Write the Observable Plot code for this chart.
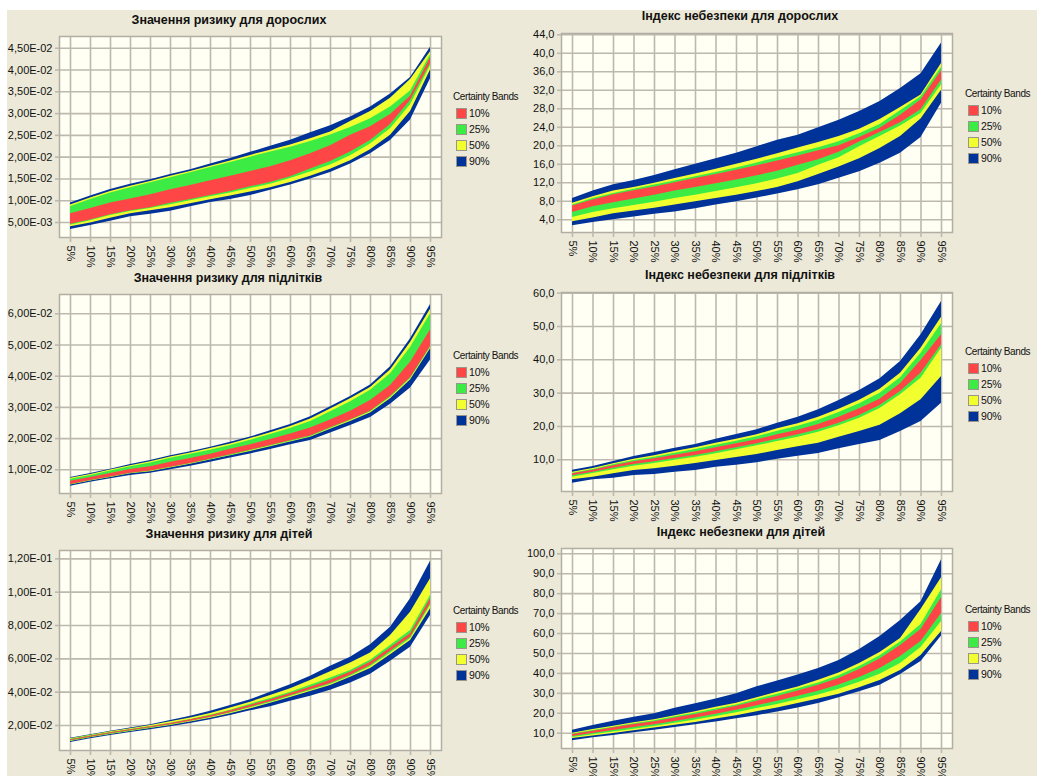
<!DOCTYPE html>
<html><head><meta charset="utf-8">
<script src="https://cdn.jsdelivr.net/npm/d3@7"></script>
<script src="https://cdn.jsdelivr.net/npm/@observablehq/plot@0.6"></script>
<style>
body{margin:0;width:1037px;height:776px;overflow:hidden;background:#fff;position:relative;font-family:"Liberation Sans",Arial,sans-serif;}
#bg{position:absolute;left:7px;top:10px;width:1030px;height:766px;background:#ECE9D8;}
.panel{position:absolute;}
.panel svg{display:block;overflow:visible;}
.title{position:absolute;font-weight:bold;font-size:12.5px;line-height:15px;transform:translateX(-50%);white-space:nowrap;color:#111;}
.legend{position:absolute;font-size:10.5px;line-height:13px;color:#111;}
.legend .head{white-space:nowrap;font-size:10px;letter-spacing:-0.4px;}
.legend .row{position:absolute;left:3px;height:10px;white-space:nowrap;}
.legend .sw{position:absolute;left:0;top:0;width:9px;height:9px;border:1px solid #9a968c;}
.legend .lab{position:absolute;left:13px;top:-1px;letter-spacing:-0.2px;}
</style></head>
<body>
<div id="bg"></div>
<script>
// percentiles on the x axis
const percentiles = [5,10,15,20,25,30,35,40,45,50,55,60,65,70,75,80,85,90,95];
const pctLabels = ["5%","10%","15%","20%","25%","30%","35%","40%","45%","50%","55%","60%","65%","70%","75%","80%","85%","90%","95%"];
const bandNames = ["10%","25%","50%","90%"];

// Значення ризику для дорослих
const adultRiskHi90 = [0.0095,0.0111,0.0126,0.0138,0.0148,0.0160,0.0171,0.0184,0.0197,0.0211,0.0225,0.0239,0.0256,0.0272,0.0292,0.0315,0.0345,0.0383,0.0452];
const adultRiskHi50 = [0.0090,0.0106,0.0121,0.0133,0.0144,0.0156,0.0167,0.0179,0.0191,0.0204,0.0216,0.0228,0.0242,0.0258,0.0282,0.0305,0.0335,0.0378,0.0442];
const adultRiskHi25 = [0.0087,0.0103,0.0118,0.0130,0.0141,0.0153,0.0164,0.0176,0.0188,0.0200,0.0212,0.0223,0.0236,0.0251,0.0268,0.0288,0.0315,0.0352,0.0435];
const adultRiskHi10 = [0.0070,0.0082,0.0095,0.0104,0.0114,0.0125,0.0135,0.0146,0.0156,0.0167,0.0178,0.0192,0.0208,0.0226,0.0250,0.0270,0.0298,0.0340,0.0428];
const adultRiskLo10 = [0.0046,0.0056,0.0068,0.0077,0.0084,0.0094,0.0103,0.0112,0.0121,0.0132,0.0142,0.0155,0.0173,0.0190,0.0212,0.0238,0.0275,0.0330,0.0415];
const adultRiskLo25 = [0.0044,0.0054,0.0066,0.0075,0.0082,0.0091,0.0100,0.0109,0.0118,0.0128,0.0138,0.0151,0.0166,0.0182,0.0203,0.0230,0.0265,0.0320,0.0410];
const adultRiskLo50 = [0.0040,0.0049,0.0060,0.0070,0.0077,0.0084,0.0093,0.0102,0.0111,0.0120,0.0130,0.0142,0.0156,0.0172,0.0192,0.0217,0.0250,0.0305,0.0400];
const adultRiskLo90 = [0.0034,0.0043,0.0053,0.0063,0.0069,0.0076,0.0086,0.0096,0.0103,0.0112,0.0124,0.0136,0.0150,0.0165,0.0184,0.0208,0.0238,0.0285,0.0380];
const adultRiskTicks = [0.005,0.010,0.015,0.020,0.025,0.030,0.035,0.040,0.045];

// Індекс небезпеки для дорослих
const adultIndexHi90 = [8.6,10.2,11.6,12.5,13.6,14.8,16.0,17.2,18.4,19.8,21.2,22.3,23.9,25.5,27.4,29.6,32.4,35.6,42.2];
const adultIndexHi50 = [7.6,9.0,10.2,11.0,11.9,12.9,13.9,14.9,16.0,17.1,18.3,19.5,20.7,22.0,23.6,25.7,28.3,31.0,37.8];
const adultIndexHi25 = [7.2,8.6,9.7,10.6,11.5,12.4,13.3,14.2,15.2,16.3,17.4,18.5,19.6,20.9,22.6,24.6,27.6,30.6,37.0];
const adultIndexHi10 = [7.0,8.3,9.4,10.3,11.1,12.0,12.9,13.8,14.7,15.7,16.7,17.8,18.9,20.0,21.8,23.8,26.6,29.9,36.2];
const adultIndexLo10 = [5.6,6.8,7.7,8.5,9.3,10.2,11.0,11.8,12.6,13.5,14.5,15.8,17.0,18.6,20.8,22.9,25.0,27.8,34.2];
const adultIndexLo25 = [4.5,5.6,6.4,7.1,7.8,8.6,9.3,10.1,10.9,11.8,12.8,14.0,15.8,17.4,19.8,22.0,24.3,27.0,33.2];
const adultIndexLo50 = [3.6,4.4,5.3,5.9,6.5,7.2,7.9,8.6,9.3,10.1,11.0,12.2,13.8,15.4,17.2,19.4,22.0,25.8,32.0];
const adultIndexLo90 = [2.7,3.4,4.0,4.6,5.2,5.7,6.4,7.2,7.9,8.7,9.6,10.5,11.6,13.0,14.4,16.2,18.4,21.8,29.2];
const adultIndexTicks = [4,8,12,16,20,24,28,32,36,40,44];

// Значення ризику для підлітків
const teenRiskHi90 = [0.0075,0.0088,0.0102,0.0117,0.0130,0.0145,0.0158,0.0172,0.0188,0.0205,0.0225,0.0245,0.0270,0.0302,0.0335,0.0372,0.0430,0.0520,0.0630];
const teenRiskHi50 = [0.0073,0.0085,0.0099,0.0113,0.0126,0.0141,0.0154,0.0168,0.0183,0.0200,0.0219,0.0239,0.0263,0.0295,0.0328,0.0364,0.0420,0.0508,0.0615];
const teenRiskHi25 = [0.0070,0.0082,0.0096,0.0110,0.0122,0.0137,0.0150,0.0163,0.0178,0.0195,0.0213,0.0232,0.0255,0.0286,0.0318,0.0355,0.0408,0.0492,0.0600];
const teenRiskHi10 = [0.0063,0.0075,0.0088,0.0101,0.0110,0.0124,0.0136,0.0150,0.0166,0.0180,0.0197,0.0215,0.0234,0.0260,0.0288,0.0322,0.0370,0.0445,0.0548];
const teenRiskLo10 = [0.0053,0.0066,0.0077,0.0089,0.0096,0.0108,0.0120,0.0134,0.0148,0.0163,0.0178,0.0193,0.0208,0.0235,0.0260,0.0288,0.0335,0.0395,0.0495];
const teenRiskLo25 = [0.0052,0.0065,0.0076,0.0088,0.0095,0.0107,0.0119,0.0132,0.0146,0.0161,0.0176,0.0191,0.0206,0.0232,0.0258,0.0285,0.0332,0.0392,0.0492];
const teenRiskLo50 = [0.0051,0.0064,0.0075,0.0087,0.0094,0.0106,0.0118,0.0131,0.0145,0.0159,0.0174,0.0189,0.0204,0.0230,0.0255,0.0282,0.0328,0.0388,0.0488];
const teenRiskLo90 = [0.0047,0.0060,0.0071,0.0082,0.0089,0.0100,0.0111,0.0124,0.0138,0.0151,0.0165,0.0180,0.0194,0.0218,0.0242,0.0268,0.0310,0.0362,0.0452];
const teenRiskTicks = [0.01,0.02,0.03,0.04,0.05,0.06];

// Індекс небезпеки для підлітків
const teenIndexHi90 = [6.9,8.0,9.5,11.0,12.2,13.5,14.6,16.2,17.6,19.0,21.0,22.8,25.0,27.8,30.8,34.3,39.5,47.5,57.5];
const teenIndexHi50 = [6.3,7.4,8.8,10.2,11.2,12.5,13.6,15.0,16.2,17.5,19.3,20.8,22.8,25.2,27.9,31.2,36.0,43.5,52.8];
const teenIndexHi25 = [6.0,7.1,8.5,9.8,10.8,12.0,13.1,14.4,15.6,16.9,18.6,20.1,21.9,24.2,26.8,30.0,34.6,42.0,50.8];
const teenIndexHi10 = [5.8,6.9,8.2,9.4,10.3,11.4,12.4,13.6,14.8,16.0,17.5,18.9,20.6,22.8,25.3,28.2,32.8,39.8,47.5];
const teenIndexLo10 = [5.2,6.3,7.5,8.6,9.4,10.4,11.3,12.4,13.6,14.8,16.2,17.5,19.0,21.0,23.3,26.3,30.5,36.0,44.5];
const teenIndexLo25 = [4.8,5.9,7.0,8.1,8.9,9.9,10.8,11.8,13.0,14.2,15.5,16.8,18.3,20.2,22.5,25.4,29.5,34.5,43.5];
const teenIndexLo50 = [4.0,4.8,5.8,6.8,7.3,8.1,8.9,9.8,10.7,11.6,12.8,13.9,15.0,16.8,18.5,20.4,23.8,28.0,35.0];
const teenIndexLo90 = [3.0,4.0,4.5,5.3,5.6,6.3,6.8,7.8,8.4,9.1,10.2,11.1,11.9,13.3,14.6,15.8,18.5,21.5,27.0];
const teenIndexTicks = [10,20,30,40,50,60];

// Значення ризику для дітей
const childRiskHi90 = [0.0123,0.0145,0.0165,0.0185,0.0205,0.0230,0.0255,0.0285,0.0320,0.0355,0.0400,0.0445,0.0495,0.0555,0.0610,0.0685,0.0790,0.0960,0.1185];
const childRiskHi50 = [0.0120,0.0142,0.0162,0.0180,0.0200,0.0222,0.0245,0.0272,0.0305,0.0340,0.0380,0.0420,0.0470,0.0522,0.0575,0.0635,0.0740,0.0880,0.1080];
const childRiskHi25 = [0.0117,0.0138,0.0158,0.0176,0.0194,0.0214,0.0236,0.0262,0.0292,0.0328,0.0362,0.0400,0.0442,0.0485,0.0530,0.0592,0.0680,0.0770,0.0980];
const childRiskHi10 = [0.0115,0.0136,0.0156,0.0174,0.0192,0.0212,0.0234,0.0258,0.0288,0.0322,0.0355,0.0392,0.0430,0.0472,0.0520,0.0580,0.0665,0.0750,0.0960];
const childRiskLo10 = [0.0108,0.0130,0.0150,0.0168,0.0186,0.0205,0.0226,0.0250,0.0278,0.0310,0.0342,0.0378,0.0415,0.0452,0.0502,0.0560,0.0645,0.0730,0.0930];
const childRiskLo25 = [0.0106,0.0128,0.0148,0.0166,0.0184,0.0203,0.0224,0.0248,0.0275,0.0306,0.0338,0.0374,0.0410,0.0446,0.0496,0.0552,0.0635,0.0720,0.0920];
const childRiskLo50 = [0.0104,0.0126,0.0146,0.0164,0.0182,0.0200,0.0221,0.0244,0.0271,0.0300,0.0333,0.0368,0.0404,0.0440,0.0490,0.0542,0.0625,0.0710,0.0900];
const childRiskLo90 = [0.0098,0.0120,0.0140,0.0158,0.0174,0.0192,0.0212,0.0234,0.0260,0.0288,0.0312,0.0345,0.0375,0.0412,0.0455,0.0508,0.0585,0.0670,0.0860];
const childRiskTicks = [0.02,0.04,0.06,0.08,0.10,0.12];

// Індекс небезпеки для дітей
const childIndexHi90 = [11.5,13.8,16.0,18.0,19.8,22.5,24.8,27.2,29.8,33.3,36.2,39.2,42.5,46.5,52.0,58.5,66.5,76.0,97.0];
const childIndexHi50 = [10.0,11.8,13.5,15.2,16.8,18.8,20.8,23.0,25.0,27.8,30.5,33.2,36.5,40.2,45.0,50.5,57.5,72.0,88.0];
const childIndexHi25 = [9.6,11.3,13.0,14.7,16.3,18.2,20.1,22.2,24.2,26.9,29.5,32.3,35.2,38.8,43.5,48.8,55.8,64.5,82.0];
const childIndexHi10 = [9.3,11.0,12.7,14.3,15.8,17.6,19.4,21.4,23.5,26.0,28.4,31.2,34.0,37.5,42.0,47.2,54.0,62.0,78.0];
const childIndexLo10 = [8.3,9.8,11.3,12.8,14.2,15.9,17.6,19.5,21.5,23.8,26.0,28.5,31.0,34.2,38.0,42.5,48.5,56.0,70.0];
const childIndexLo25 = [7.8,9.2,10.6,12.0,13.4,15.0,16.6,18.4,20.3,22.4,24.4,26.8,29.1,32.0,35.6,39.6,45.0,53.0,66.0];
const childIndexLo50 = [7.3,8.6,9.9,11.2,12.6,14.0,15.4,17.1,18.8,20.8,22.6,24.9,27.2,29.6,32.8,36.4,41.5,49.0,61.0];
const childIndexLo90 = [6.2,7.7,8.9,10.2,11.5,12.9,14.2,15.6,17.2,18.8,20.6,22.6,24.9,27.8,30.8,34.0,39.5,46.0,58.8];
const childIndexTicks = [10,20,30,40,50,60,70,80,90,100];

const titles = ["Значення ризику для дорослих","Індекс небезпеки для дорослих","Значення ризику для підлітків","Індекс небезпеки для підлітків","Значення ризику для дітей","Індекс небезпеки для дітей"];

const COLORS = {"10%":"#FF4646","25%":"#3DEB45","50%":"#F2FF2E","90%":"#003399"};
const GRID = "#bdb9ae";
const FRAME = "#b2aea3";
const PLOTBG = "#FFFFF3";

function sciFmt(d){
  const [m,e] = d.toExponential(2).split("e");
  const n = +e;
  return m.replace(".",",") + "E" + (n<0?"-":"+") + String(Math.abs(n)).padStart(2,"0");
}
function decFmt(d){ return d.toFixed(1).replace(".",","); }

function makePanel(cfg){
  const rows = percentiles.map((p,i)=>({p,
    hi90:cfg.s[0][i],hi50:cfg.s[1][i],hi25:cfg.s[2][i],hi10:cfg.s[3][i],
    lo10:cfg.s[4][i],lo25:cfg.s[5][i],lo50:cfg.s[6][i],lo90:cfg.s[7][i]}));
  const frameW = cfg.frameRight - cfg.frameLeft;
  const spacing = (frameW - 22)/18;
  const pad = 11/spacing*5;
  const mt = 10, mb = 40;
  const svgLeft = cfg.svgLeft;
  const width = cfg.frameRight + 4 - svgLeft;
  const height = mt + (cfg.frameBottom - cfg.frameTop) + mb;
  const chart = Plot.plot({
    width, height,
    marginLeft: cfg.frameLeft - svgLeft, marginRight: 4, marginTop: mt, marginBottom: mb,
    style:{fontFamily:'"Liberation Sans",Arial,sans-serif',fontSize:"11px",background:"transparent",color:"#111",overflow:"visible"},
    x:{type:"linear",domain:[5-pad,95+pad]},
    y:{type:"linear",domain:cfg.ydomain},
    marks:[
      Plot.frame({fill:PLOTBG,stroke:null}),
      Plot.gridX(percentiles,{stroke:GRID,strokeOpacity:1,strokeWidth:1.6}),
      Plot.gridY(cfg.ticks,{stroke:GRID,strokeOpacity:1,strokeWidth:1.6}),
      Plot.areaY(rows,{x:"p",y1:"lo90",y2:"hi90",fill:COLORS["90%"]}),
      Plot.areaY(rows,{x:"p",y1:"lo50",y2:"hi50",fill:COLORS["50%"]}),
      Plot.areaY(rows,{x:"p",y1:"lo25",y2:"hi25",fill:COLORS["25%"]}),
      Plot.areaY(rows,{x:"p",y1:"lo10",y2:"hi10",fill:COLORS["10%"]}),
      Plot.frame({stroke:FRAME,strokeWidth:1.5}),
      Plot.axisX(percentiles,{tickFormat:d=>pctLabels[percentiles.indexOf(d)],tickRotate:90,tickSize:5,tickPadding:3,stroke:GRID,strokeWidth:1.6,fill:"#111",label:null}),
      Plot.axisY(cfg.ticks,{tickFormat:cfg.fmt,tickSize:4,tickPadding:3,stroke:GRID,strokeWidth:1.6,fill:"#111",label:null})
    ]
  });
  const wrap = document.createElement("div");
  wrap.className = "panel";
  wrap.style.left = svgLeft + "px";
  wrap.style.top = (cfg.frameTop - mt) + "px";
  wrap.appendChild(chart);
  document.body.appendChild(wrap);

  const t = document.createElement("div");
  t.className = "title";
  t.textContent = cfg.title;
  t.style.left = cfg.titleX + "px";
  t.style.top = (cfg.titleY - 7.5) + "px";
  document.body.appendChild(t);

  const lg = document.createElement("div");
  lg.className = "legend";
  lg.style.left = cfg.legX + "px";
  lg.style.top = cfg.legY + "px";
  const head = document.createElement("div");
  head.className = "head";
  head.textContent = "Certainty Bands";
  lg.appendChild(head);
  bandNames.forEach((b,i)=>{
    const r = document.createElement("div");
    r.className = "row";
    r.style.top = (18 + i*16) + "px";
    const sw = document.createElement("div");
    sw.className = "sw"; sw.style.background = COLORS[b];
    const lab = document.createElement("div");
    lab.className = "lab"; lab.textContent = b;
    r.appendChild(sw); r.appendChild(lab);
    lg.appendChild(r);
  });
  document.body.appendChild(lg);
}

makePanel({title:titles[0],titleX:229,titleY:20,svgLeft:0,frameLeft:59,frameRight:441,frameTop:36,frameBottom:237,
  ydomain:[0.00156,0.04769],ticks:adultRiskTicks,fmt:sciFmt,legX:453,legY:90,
  s:[adultRiskHi90,adultRiskHi50,adultRiskHi25,adultRiskHi10,adultRiskLo10,adultRiskLo25,adultRiskLo50,adultRiskLo90]});
makePanel({title:titles[1],titleX:740,titleY:16,svgLeft:510,frameLeft:561,frameRight:952,frameTop:33,frameBottom:232,
  ydomain:[1.25,44.28],ticks:adultIndexTicks,fmt:decFmt,legX:965,legY:87,
  s:[adultIndexHi90,adultIndexHi50,adultIndexHi25,adultIndexHi10,adultIndexLo10,adultIndexLo25,adultIndexLo50,adultIndexLo90]});
makePanel({title:titles[2],titleX:228,titleY:278,svgLeft:0,frameLeft:59,frameRight:441,frameTop:294,frameBottom:493,
  ydomain:[0.0024,0.06619],ticks:teenRiskTicks,fmt:sciFmt,legX:453,legY:349,
  s:[teenRiskHi90,teenRiskHi50,teenRiskHi25,teenRiskHi10,teenRiskLo10,teenRiskLo25,teenRiskLo50,teenRiskLo90]});
makePanel({title:titles[3],titleX:740,titleY:275,svgLeft:510,frameLeft:561,frameRight:952,frameTop:292,frameBottom:491,
  ydomain:[0.49,60.2],ticks:teenIndexTicks,fmt:decFmt,legX:965,legY:345,
  s:[teenIndexHi90,teenIndexHi50,teenIndexHi25,teenIndexHi10,teenIndexLo10,teenIndexLo25,teenIndexLo50,teenIndexLo90]});
makePanel({title:titles[4],titleX:229,titleY:534,svgLeft:0,frameLeft:59,frameRight:441,frameTop:550,frameBottom:750,
  ydomain:[0.005,0.125],ticks:childRiskTicks,fmt:sciFmt,legX:453,legY:604,
  s:[childRiskHi90,childRiskHi50,childRiskHi25,childRiskHi10,childRiskLo10,childRiskLo25,childRiskLo50,childRiskLo90]});
makePanel({title:titles[5],titleX:741,titleY:532,svgLeft:510,frameLeft:561,frameRight:952,frameTop:548,frameBottom:748,
  ydomain:[2.32,102.66],ticks:childIndexTicks,fmt:decFmt,legX:965,legY:603,
  s:[childIndexHi90,childIndexHi50,childIndexHi25,childIndexHi10,childIndexLo10,childIndexLo25,childIndexLo50,childIndexLo90]});
</script>
</body></html>
